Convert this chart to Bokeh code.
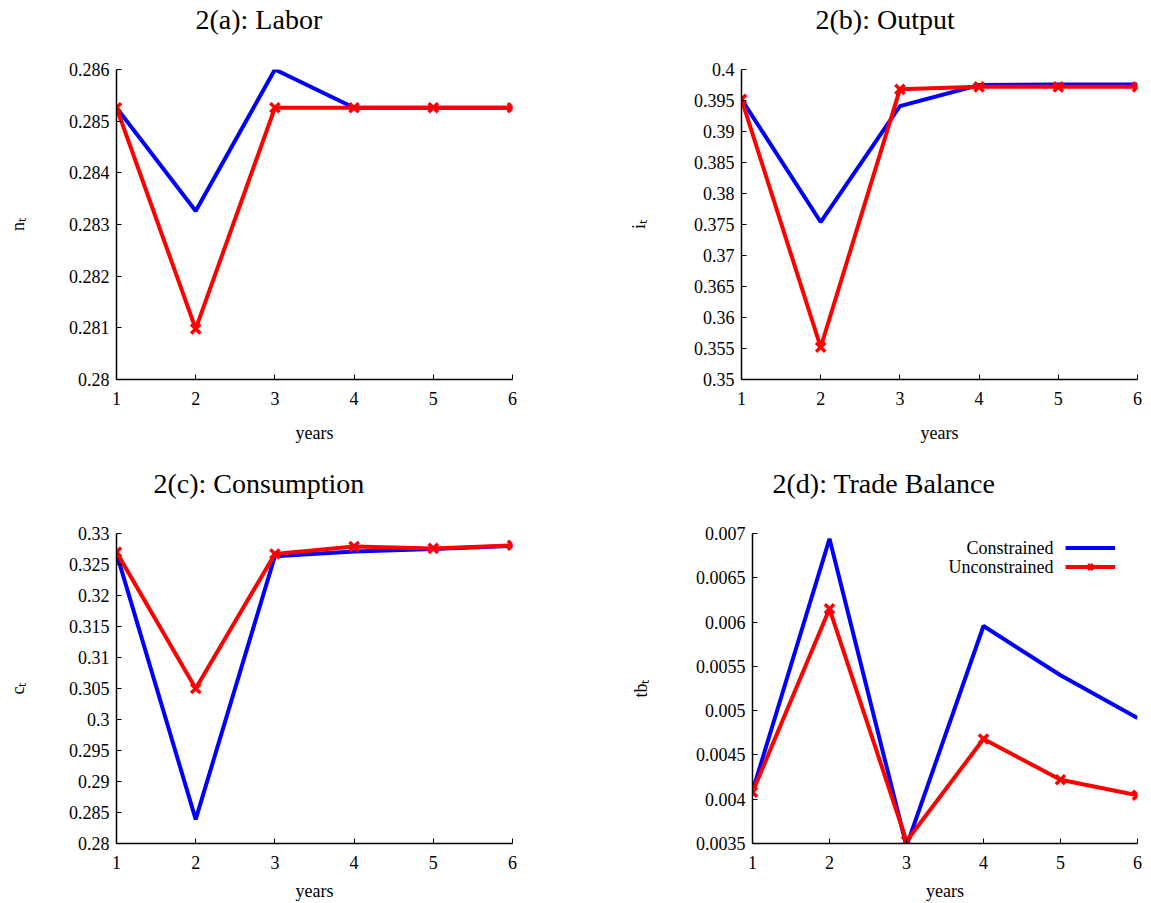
from bokeh.plotting import figure
from bokeh.models import (Range1d, FixedTicker, CustomJSTickFormatter, Legend,
                          LegendItem, Label, Title)
from bokeh.core.properties import value
from bokeh.layouts import column, row
from bokeh.embed import file_html
from bokeh.resources import INLINE

# ---------------- data ----------------
years = [1, 2, 3, 4, 5, 6]

labor_constrained = [0.28526, 0.28326, 0.28600, 0.28526, 0.28526, 0.28526]
labor_unconstrained = [0.28526, 0.28098, 0.28526, 0.28526, 0.28526, 0.28526]

output_constrained = [0.3952, 0.3754, 0.3941, 0.3975, 0.3976, 0.3976]
output_unconstrained = [0.3952, 0.3552, 0.3968, 0.3972, 0.3972, 0.3972]

cons_constrained = [0.3268, 0.2839, 0.32635, 0.3271, 0.3275, 0.3280]
cons_unconstrained = [0.3270, 0.3050, 0.3267, 0.3279, 0.3276, 0.3281]

tb_constrained = [0.00409, 0.00694, 0.00347, 0.005956, 0.00540, 0.004916]
tb_unconstrained = [0.00408, 0.00615, 0.003526, 0.00468, 0.00422, 0.004045]

x_ticks = [1, 2, 3, 4, 5, 6]
labor_ticks = [0.280, 0.281, 0.282, 0.283, 0.284, 0.285, 0.286]
output_ticks = [0.350, 0.355, 0.360, 0.365, 0.370, 0.375, 0.380, 0.385,
                0.390, 0.395, 0.400]
cons_ticks = [0.280, 0.285, 0.290, 0.295, 0.300, 0.305, 0.310, 0.315,
              0.320, 0.325, 0.330]
tb_ticks = [0.0035, 0.0040, 0.0045, 0.0050, 0.0055, 0.0060, 0.0065, 0.0070]

panel_titles = ["2(a): Labor", "2(b): Output", "2(c): Consumption",
                "2(d): Trade Balance"]
series_names = ["Constrained", "Unconstrained"]

SERIF = "Liberation Serif"
fmt_code = "return String(parseFloat(tick.toPrecision(6)));"


def make_panel(title, ylabel, yticks, cons, uncons, width, height,
               b_left, b_right, b_top, b_bottom, title_offset,
               ylab_standoff, xlab_standoff):
    p = figure(width=width, height=height, output_backend="svg",
               toolbar_location=None, tools="",
               x_range=Range1d(x_ticks[0], x_ticks[-1]),
               y_range=Range1d(yticks[0], yticks[-1]),
               min_border_left=b_left, min_border_right=b_right,
               min_border_top=b_top, min_border_bottom=b_bottom)

    # blank spacer between the frame and the panel title
    p.add_layout(Title(text=" ", text_font_size="8px", standoff=22), "above")
    p.add_layout(Title(text=title, align="left", offset=title_offset,
                       standoff=0, vertical_align="top",
                       text_font=SERIF, text_font_size="28px",
                       text_font_style="normal", text_color="black"), "above")

    p.outline_line_color = None
    p.grid.visible = False
    p.background_fill_color = "white"
    p.border_fill_color = "white"

    p.xaxis.ticker = FixedTicker(ticks=x_ticks)
    p.yaxis.ticker = FixedTicker(ticks=yticks)
    p.yaxis.formatter = CustomJSTickFormatter(code=fmt_code)

    for ax in (p.xaxis[0], p.yaxis[0]):
        ax.major_tick_in = 5
        ax.major_tick_out = 0
        ax.minor_tick_in = 0
        ax.minor_tick_out = 0
        ax.axis_line_width = 1.5
        ax.axis_line_color = "black"
        ax.major_tick_line_color = "black"
        ax.major_label_text_font = SERIF
        ax.major_label_text_font_size = "18px"
        ax.major_label_text_color = "black"
        ax.axis_label_text_font = SERIF
        ax.axis_label_text_font_size = "18px"
        ax.axis_label_text_font_style = "normal"
        ax.axis_label_text_color = "black"

    p.xaxis.major_label_standoff = 12
    p.yaxis.major_label_standoff = 7
    p.xaxis.axis_label = "years"
    p.xaxis.axis_label_standoff = xlab_standoff
    p.yaxis.axis_label = ylabel
    p.yaxis.axis_label_standoff = ylab_standoff

    bl = p.line(years, cons, line_color="#0000ff", line_width=4)
    rl = p.line(years, uncons, line_color="#ff0000", line_width=4)
    rs = p.scatter(years, uncons, marker="x", size=13, line_width=3.5,
                   line_color="#ff0000")
    return p, bl, rl, rs


pa, _, _, _ = make_panel(panel_titles[0], "n\u209c", labor_ticks,
                         labor_constrained, labor_unconstrained,
                         575, 448, 116, 63, 69, 69, 79, 38, 15)
pb, _, _, _ = make_panel(panel_titles[1], "i\u209c", output_ticks,
                         output_constrained, output_unconstrained,
                         570, 448, 166, 8, 69, 69, 74, 42, 15)
pc, _, _, _ = make_panel(panel_titles[2], "c\u209c", cons_ticks,
                         cons_constrained, cons_unconstrained,
                         575, 455, 116, 63, 85, 60, 37, 38, 9)
pd, dbl, drl, drs = make_panel(panel_titles[3], "tb\u209c", tb_ticks,
                               tb_constrained, tb_unconstrained,
                               570, 455, 177, 8, 85, 60, 20, 42, 9)

legend = Legend(items=[LegendItem(label=value(""), renderers=[dbl]),
                       LegendItem(label=value(""), renderers=[drl, drs])],
                location=(313, 267), glyph_width=50, glyph_height=19,
                label_width=0, label_height=19, label_standoff=0,
                padding=0, spacing=0, margin=0,
                border_line_color=None, background_fill_alpha=0)
pd.add_layout(legend)

for txt, ypos in zip(series_names, [295.6, 276.6]):
    pd.add_layout(Label(x=301, y=ypos, x_units="screen", y_units="screen",
                        text=txt, text_align="right", text_baseline="middle",
                        text_font=SERIF, text_font_size="18px",
                        text_color="black"))

layout = column(row(pa, pb), row(pc, pd))
open("out.html", "w").write(file_html(layout, INLINE))
